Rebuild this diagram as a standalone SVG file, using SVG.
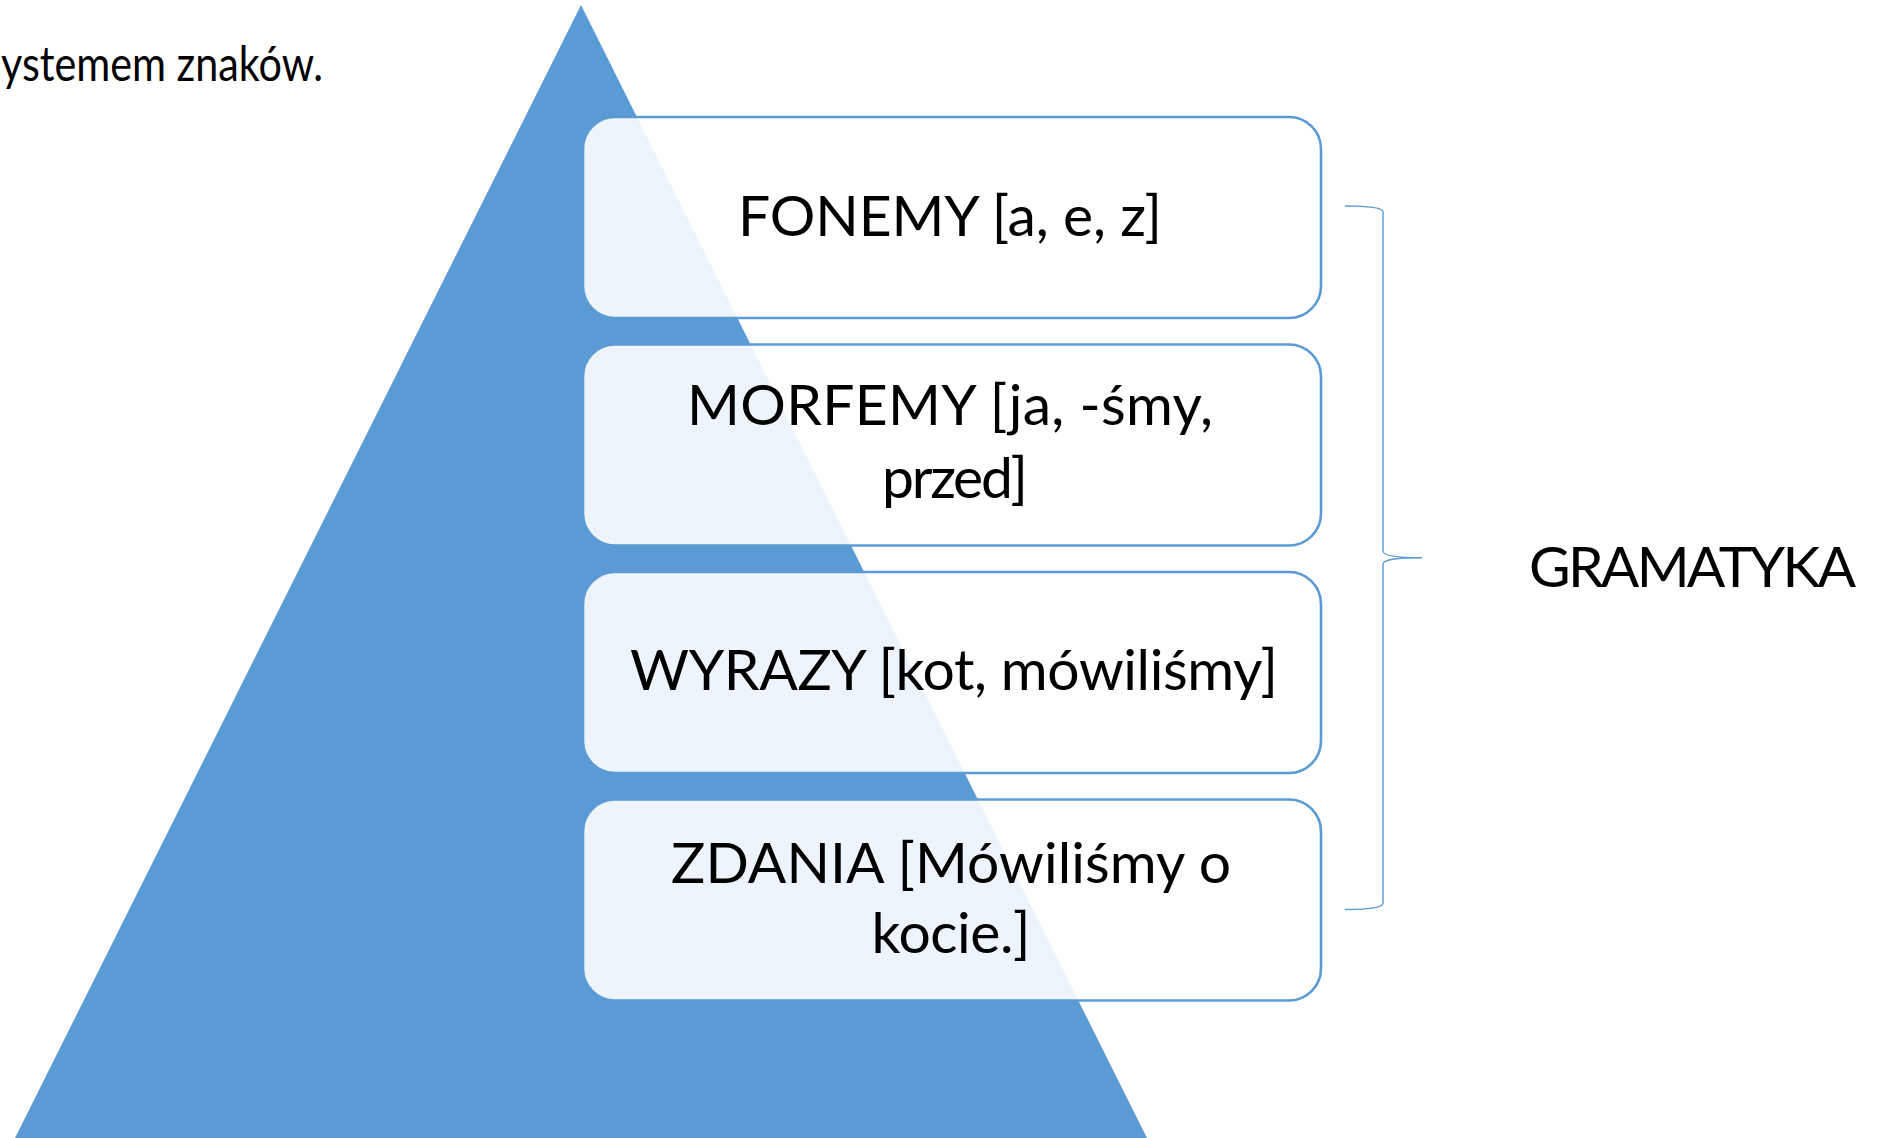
<svg xmlns="http://www.w3.org/2000/svg" width="1888" height="1138" viewBox="0 0 1888 1138">
  <style>
    .box { fill: #ffffff; fill-opacity: 0.89; stroke: #5B9BD5; stroke-width: 2.6; }
    .lbl { font-family: Lato, "Liberation Sans", "Noto Sans", sans-serif; font-size: 57px; fill: #000000; text-anchor: middle; }
    .brace { fill: none; stroke: #5B9BD5; stroke-width: 1.4; }
  </style>
  <rect x="0" y="0" width="1888" height="1138" fill="#ffffff"/>
  <text id="caption" x="1" y="81" font-family="Lato, 'Liberation Sans', sans-serif" font-size="49" textLength="322" lengthAdjust="spacingAndGlyphs" fill="#000000">ystemem znaków.</text>
  <polygon id="pyramid" points="581,5 15,1138 1147,1138" fill="#5B9BD5"/>
  <g id="node-fonemy">
    <rect class="box" x="583" y="117" width="738" height="201" rx="32" ry="32"/>
    <text class="lbl" x="950" y="236" textLength="424">FONEMY [a, e, z]</text>
  </g>
  <g id="node-morfemy">
    <rect class="box" x="583" y="344.5" width="738" height="201" rx="32" ry="32"/>
    <text class="lbl" x="950" y="425" textLength="526">MORFEMY [ja, -śmy,</text>
    <text class="lbl" x="955" y="498" textLength="146">przed]</text>
  </g>
  <g id="node-wyrazy">
    <rect class="box" x="583" y="572" width="738" height="201" rx="32" ry="32"/>
    <text class="lbl" x="954" y="690" textLength="648">WYRAZY [kot, mówiliśmy]</text>
  </g>
  <g id="node-zdania">
    <rect class="box" x="583" y="799.5" width="738" height="201" rx="32" ry="32"/>
    <text class="lbl" x="951" y="883" textLength="560">ZDANIA [Mówiliśmy o</text>
    <text class="lbl" x="951" y="953" textLength="159">kocie.]</text>
  </g>
  <g id="connectors">
    <path class="brace" d="M1345,206 C1372,206 1383,208 1383,212 L1383,551 C1383,555 1392,557.7 1422,557.7 C1392,557.7 1383,560 1383,564 L1383,903 C1383,907 1372,909.5 1345,909.5"/>
  </g>
  <g id="node-gramatyka">
    <text class="lbl" x="1692.5" y="587" textLength="327">GRAMATYKA</text>
  </g>
</svg>
